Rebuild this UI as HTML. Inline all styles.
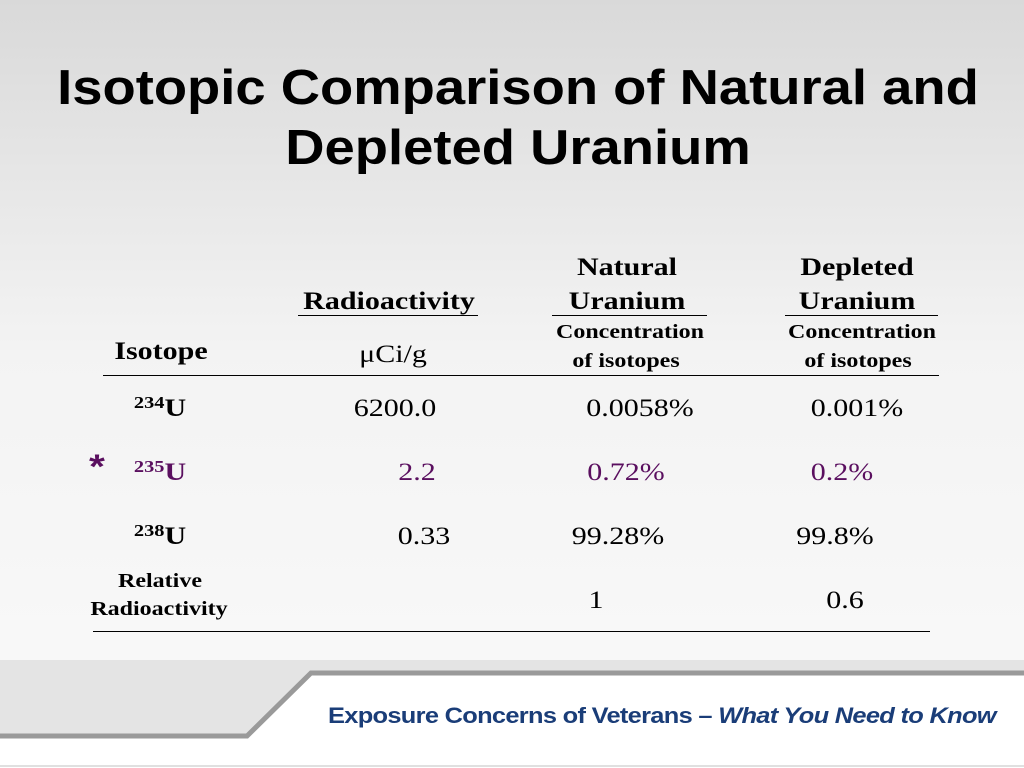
<!DOCTYPE html>
<html><head><meta charset="utf-8"><style>
body{margin:0;width:1024px;height:768px;overflow:hidden;position:relative;background:linear-gradient(#d9d9d9 0%,#f3f3f3 45%,#fafafa 100%);font-family:"Liberation Serif",serif}
.t{position:absolute;white-space:nowrap;transform:translateX(-50%) scaleX(1.2);line-height:1}
.b{font-weight:bold}
.p{color:#5a0f5f}
.l{position:absolute;height:1px;background:#000}
sup{font-size:68%;vertical-align:top;position:relative;top:-2px}
</style></head><body>
<div style="position:absolute;left:0;width:1036px;top:58px;text-align:center;font:bold 49px/60px 'Liberation Sans',sans-serif;color:#000;transform:scaleX(1.11)">Isotopic Comparison of Natural and<br>Depleted Uranium</div>

<div>
<div class="t b" style="left:627px;top:255px;font-size:25px">Natural</div>
<div class="t b" style="left:857px;top:255px;font-size:25px">Depleted</div>
<div class="t b" style="left:389px;top:289px;font-size:25px">Radioactivity</div>
<div class="t b" style="left:627px;top:289px;font-size:25px">Uranium</div>
<div class="t b" style="left:857px;top:289px;font-size:25px">Uranium</div>
<div class="l" style="left:298px;width:180px;top:315px"></div>
<div class="l" style="left:552px;width:155px;top:315px"></div>
<div class="l" style="left:785px;width:153px;top:315px"></div>
<div class="t b" style="left:630px;top:322px;font-size:20px">Concentration</div>
<div class="t b" style="left:862px;top:322px;font-size:20px">Concentration</div>
<div class="t b" style="left:626px;top:351px;font-size:20px">of isotopes</div>
<div class="t b" style="left:858px;top:351px;font-size:20px">of isotopes</div>
<div class="t b" style="left:161px;top:339px;font-size:25px">Isotope</div>
<div class="t" style="left:393px;top:342px;font-size:25px">μCi/g</div>
<div class="l" style="left:103px;width:836px;top:375px"></div>

<div class="t b" style="left:160px;top:396px;font-size:25px"><sup>234</sup>U</div>
<div class="t" style="left:395px;top:396px;font-size:25px">6200.0</div>
<div class="t" style="left:640px;top:396px;font-size:25px">0.0058%</div>
<div class="t" style="left:857px;top:396px;font-size:25px">0.001%</div>

<div class="t b p" style="left:97px;top:450px;font-size:34px;font-family:'Liberation Sans',sans-serif">*</div>
<div class="t b p" style="left:160px;top:460px;font-size:25px"><sup>235</sup>U</div>
<div class="t p" style="left:417px;top:460px;font-size:25px">2.2</div>
<div class="t p" style="left:626px;top:460px;font-size:25px">0.72%</div>
<div class="t p" style="left:842px;top:460px;font-size:25px">0.2%</div>

<div class="t b" style="left:160px;top:524px;font-size:25px"><sup>238</sup>U</div>
<div class="t" style="left:424px;top:524px;font-size:25px">0.33</div>
<div class="t" style="left:618px;top:524px;font-size:25px">99.28%</div>
<div class="t" style="left:835px;top:524px;font-size:25px">99.8%</div>

<div class="t b" style="left:160px;top:571px;font-size:20px">Relative</div>
<div class="t b" style="left:159px;top:599px;font-size:20px">Radioactivity</div>
<div class="t" style="left:596px;top:588px;font-size:25px">1</div>
<div class="t" style="left:845px;top:588px;font-size:25px">0.6</div>
<div class="l" style="left:93px;width:837px;top:631px"></div>
</div>

<svg style="position:absolute;left:0;top:660px" width="1024" height="108">
<rect x="0" y="0" width="1024" height="108" fill="#e4e4e4"/>
<polygon points="312,12 1024,12 1024,108 0,108 0,76 247,76" fill="#ffffff"/>
<polyline points="1024,13 311,13 247,76 0,76" fill="none" stroke="#9a9a9a" stroke-width="5"/>
<line x1="0" y1="106" x2="1024" y2="106" stroke="#e0e0e0" stroke-width="2"/>
</svg>
<div style="position:absolute;left:328px;top:703px;font:bold 22px 'Liberation Sans',sans-serif;color:#1a3d78;letter-spacing:-0.6px;white-space:nowrap;transform:scaleX(1.155);transform-origin:left top">Exposure Concerns of Veterans – <i>What You Need to Know</i></div>
</body></html>
